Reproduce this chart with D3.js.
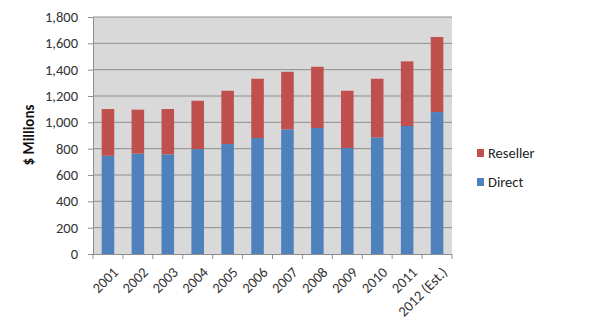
<!DOCTYPE html>
<html><head><meta charset="utf-8">
<script src="https://cdn.jsdelivr.net/npm/d3@7"></script>
<style>body{margin:0;background:#fff;} text{font-family:Carlito,Lato,"Open Sans",sans-serif;}</style>
</head><body><svg id="c" width="595" height="335"></svg>
<script>
const categories = ["2001","2002","2003","2004","2005","2006","2007","2008","2009","2010","2011","2012 (Est.)"];
const direct   = [746, 762, 757, 797, 835, 881, 947, 957, 805, 886, 972, 1078];
const reseller = [355, 334, 344, 367, 405, 450, 437, 465, 435, 445, 491, 570];
const yTicks = [0,200,400,600,800,1000,1200,1400,1600,1800];
const seriesNames = ["Reseller","Direct"];
const colors = {Direct:"#4F81BD", Reseller:"#C0504D"};

const svg = d3.select("#c");
const m = {l:93, r:452, t:17, b:254};
const x = d3.scaleBand().domain(categories).range([m.l, m.r]).paddingInner(0.58).paddingOuter(0.29);
const y = d3.scaleLinear().domain([0,1800]).range([m.b, m.t]);

svg.append("rect").attr("x",m.l).attr("y",m.t).attr("width",m.r-m.l).attr("height",m.b-m.t).attr("fill","#D9D9D9");
svg.append("g").selectAll("line").data(yTicks.slice(1)).join("line")
  .attr("x1",m.l).attr("x2",m.r).attr("y1",d=>y(d)).attr("y2",d=>y(d))
  .attr("stroke","#8E8E8E").attr("stroke-width",1);

const data = categories.map((c,i)=>({cat:c, Direct:direct[i], Reseller:reseller[i]}));
const stack = d3.stack().keys(["Direct","Reseller"])(data);
svg.append("g").selectAll("g").data(stack).join("g").attr("fill",d=>colors[d.key])
  .selectAll("rect").data(d=>d).join("rect")
  .attr("x",d=>x(d.data.cat)).attr("width",x.bandwidth())
  .attr("y",d=>y(d[1])).attr("height",d=>y(d[0])-y(d[1]));

const ya = svg.append("g").attr("transform",`translate(${m.l},0)`)
  .call(d3.axisLeft(y).tickValues(yTicks).tickFormat(d3.format(",")).tickSize(5).tickPadding(10));
ya.select(".domain").attr("stroke","#8E8E8E");
ya.selectAll(".tick line").attr("stroke","#8E8E8E");
ya.selectAll("text").attr("font-size",14.5).attr("fill","#333");

const step = x.step();
const xa = svg.append("g");
xa.append("line").attr("x1",m.l).attr("x2",m.r).attr("y1",m.b+0.5).attr("y2",m.b+0.5).attr("stroke","#8E8E8E");
const bounds = categories.map(c=>x(c) - (step - x.bandwidth())/2).concat([m.r]);
xa.selectAll("line.t").data(bounds).join("line").attr("class","t")
  .attr("x1",d=>d).attr("x2",d=>d).attr("y1",m.b).attr("y2",m.b+5).attr("stroke","#8E8E8E");
xa.selectAll("text").data(categories).join("text")
  .attr("transform",d=>`translate(${x(d)+x.bandwidth()/2+4},${m.b+12}) rotate(-45)`)
  .attr("text-anchor","end").attr("dy","0.7em").attr("font-size",14.5).attr("fill","#333").text(d=>d);

svg.append("text").attr("transform","translate(34,135) rotate(-90)").attr("text-anchor","middle")
  .attr("font-size",15).attr("font-weight","bold").attr("fill","#111").text("$ Millions");

const lg = svg.append("g").selectAll("g").data(seriesNames).join("g")
  .attr("transform",(d,i)=>`translate(477,${149+i*29})`);
lg.append("rect").attr("width",7).attr("height",8).attr("fill",d=>colors[d]);
lg.append("text").attr("x",11).attr("y",9).attr("font-size",14.5).attr("fill","#222").text(d=>d);
</script></body></html>
